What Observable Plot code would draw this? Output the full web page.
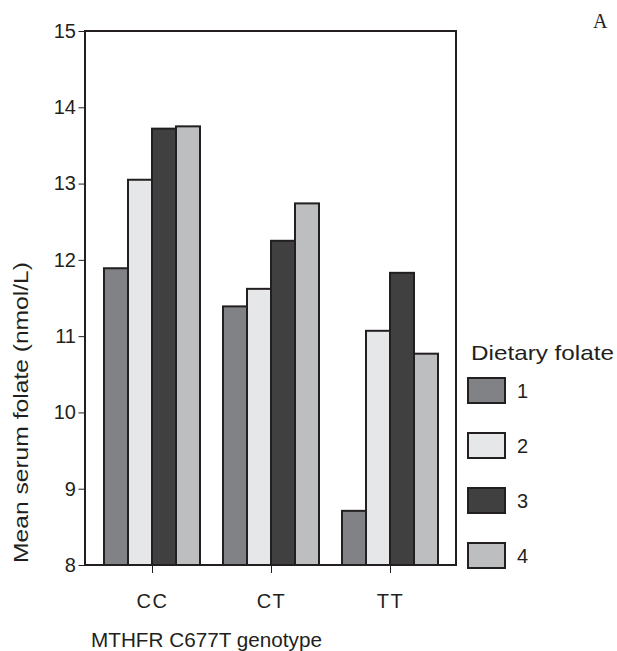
<!DOCTYPE html>
<html><head><meta charset="utf-8">
<script src="https://cdn.jsdelivr.net/npm/d3@7"></script>
<script src="https://cdn.jsdelivr.net/npm/@observablehq/plot@0.6"></script>
<style>html,body{margin:0;padding:0;background:#fff;overflow:hidden}</style>
</head><body><div id="chart"></div>
<script>
const genotypes = ["CC", "CT", "TT"];
const folateLevels = ["1", "2", "3", "4"];
const level1 = [11.89, 11.39, 8.71];
const level2 = [13.05, 11.62, 11.07];
const level3 = [13.72, 12.25, 11.83];
const level4 = [13.75, 12.74, 10.77];
const yTicks = [8, 9, 10, 11, 12, 13, 14, 15];
const fillColors = ["#808285", "#e6e7e8", "#404041", "#bcbec0"];
const yTitle = "Mean serum folate (nmol/L)";
const xTitle = "MTHFR C677T genotype";
const legendTitle = "Dietary folate";
const panelLabel = "A";

const series = [level1, level2, level3, level4];
const data = genotypes.flatMap((g, i) => folateLevels.map((f, j) => ({genotype: g, folate: f, value: series[j][i]})));
const yMin = yTicks[0], yMax = yTicks[yTicks.length - 1];

const W = 617, H = 651;
const M = {top: 31, right: 161, bottom: 86, left: 85};
const ink = "#231f20";
const font = "'Liberation Sans', Arial, sans-serif";
const padIn = 0.18, padOut = 0.147;
// the y axis is drawn at the first facet's edge; shift it back to the frame edge
const innerW = W - M.left - M.right;
const facetStep = innerW / (genotypes.length - padIn + 2 * padOut);
const axisShift = padOut * facetStep;

const plot = Plot.plot({
  width: W, height: H,
  marginTop: M.top, marginRight: M.right, marginBottom: M.bottom, marginLeft: M.left,
  style: {fontFamily: font, fontSize: "20px", color: ink, background: "#fff", overflow: "visible"},
  fx: {domain: genotypes, paddingInner: padIn, paddingOuter: padOut, label: null, axis: "bottom", tickSize: 8, tickPadding: 20},
  x: {domain: folateLevels, padding: 0, axis: null},
  y: {domain: [yMin, yMax], label: null},
  color: {domain: folateLevels, range: fillColors},
  marks: [
    Plot.barY(data, {fx: "genotype", x: "folate", y1: () => yMin, y2: "value", fill: "folate", stroke: ink, strokeWidth: 2}),
    Plot.axisY(yTicks, {anchor: "left", dx: -axisShift, tickSize: 7, tickPadding: 3, label: null, tickFormat: d => String(d)})
  ]
});
document.getElementById("chart").appendChild(plot);

const svg = d3.select(plot);
svg.selectAll('g[aria-label="fx-axis tick label"] text').style("letter-spacing", "1.5px");

// frame
svg.append("rect")
  .attr("x", M.left).attr("y", M.top)
  .attr("width", W - M.left - M.right).attr("height", H - M.top - M.bottom)
  .attr("fill", "none").attr("stroke", ink).attr("stroke-width", 2);

// axis titles
svg.append("text").text(yTitle)
  .attr("transform", "translate(28,563) rotate(-90)")
  .attr("text-anchor", "start").attr("font-size", 20).attr("fill", ink)
  .attr("textLength", 301).attr("lengthAdjust", "spacingAndGlyphs");
svg.append("text").text(xTitle)
  .attr("x", 91).attr("y", 647).attr("text-anchor", "start")
  .attr("font-size", 20).attr("fill", ink)
  .attr("textLength", 231).attr("lengthAdjust", "spacingAndGlyphs");

// panel label
svg.append("text").text(panelLabel)
  .attr("x", 593).attr("y", 28).attr("text-anchor", "start")
  .attr("font-family", "'Liberation Serif', 'Times New Roman', serif")
  .attr("font-size", 20).attr("fill", ink);

// legend
const color = plot.scale("color");
const lg = svg.append("g").attr("text-anchor", "start");
lg.append("text").text(legendTitle)
  .attr("x", 471).attr("y", 360).attr("font-size", 21).attr("fill", ink)
  .attr("textLength", 143).attr("lengthAdjust", "spacingAndGlyphs");
color.domain.forEach((d, i) => {
  const y0 = 378 + 55 * i;
  lg.append("rect").attr("x", 468).attr("y", y0).attr("width", 37).attr("height", 25)
    .attr("fill", color.range[i]).attr("stroke", ink).attr("stroke-width", 2);
  lg.append("text").text(d).attr("x", 517).attr("y", y0 + 12.5)
    .attr("dy", "0.36em").attr("font-size", 20).attr("fill", ink);
});
</script>
</body></html>
